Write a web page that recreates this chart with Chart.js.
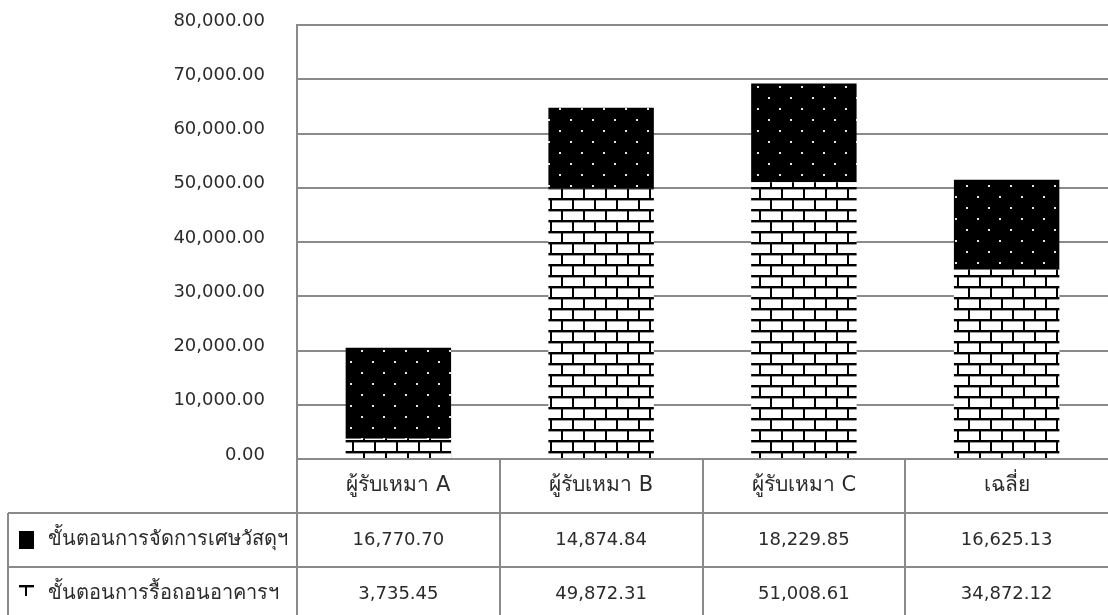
<!DOCTYPE html>
<html lang="th">
<head>
<meta charset="utf-8">
<title>ต้นทุนขั้นตอนการรื้อถอน</title>
<script src="https://cdn.jsdelivr.net/npm/chart.js@4.4.1/dist/chart.umd.min.js"></script>
<style>
    html, body { margin: 0; padding: 0; background: #fff; }
    #costChart { display: block; }
</style>
</head>
<body>
<canvas id="costChart" width="1108" height="615"></canvas>
<script>
// Categories and series values (baht)
const categories = ['ผู้รับเหมา A', 'ผู้รับเหมา B', 'ผู้รับเหมา C', 'เฉลี่ย'];
const wasteLabel = 'ขั้นตอนการจัดการเศษวัสดุฯ';
const wasteValues = [16770.70, 14874.84, 18229.85, 16625.13];
const demolitionLabel = 'ขั้นตอนการรื้อถอนอาคารฯ';
const demolitionValues = [3735.45, 49872.31, 51008.61, 34872.12];
const yTicks = [0, 10000, 20000, 30000, 40000, 50000, 60000, 70000, 80000];

const FONT = "'DejaVu Sans', 'Liberation Sans', sans-serif";
const TEXT_COLOR = '#2b2b2b';
const LINE_COLOR = '#8a8a8a';

document.addEventListener('DOMContentLoaded', () => {
    // Black fill with a staggered grid of white dots
    function makeDotPattern(ctx) {
        const tile = document.createElement('canvas');
        tile.width = 22;
        tile.height = 22;
        const t = tile.getContext('2d');
        t.fillStyle = '#000';
        t.fillRect(0, 0, 22, 22);
        t.fillStyle = '#e6e6e6';
        t.fillRect(9, 20, 2, 2);
        t.fillRect(20, 9, 2, 2);
        return ctx.createPattern(tile, 'repeat');
    }

    // White bricks with black mortar joints
    function makeBrickPattern(ctx) {
        const tile = document.createElement('canvas');
        tile.width = 22;
        tile.height = 22;
        const t = tile.getContext('2d');
        t.fillStyle = '#fff';
        t.fillRect(0, 0, 22, 22);
        t.fillStyle = '#9a9a9a';
        t.fillRect(0, 2, 22, 1);
        t.fillRect(0, 13, 22, 1);
        t.fillStyle = '#000';
        t.fillRect(0, 0, 22, 2);
        t.fillRect(0, 11, 22, 2);
        t.fillRect(0, 0, 2, 11);
        t.fillRect(11, 11, 2, 11);
        return ctx.createPattern(tile, 'repeat');
    }

    const canvas = document.getElementById('costChart');
    const ctx = canvas.getContext('2d');
    const dotPattern = makeDotPattern(ctx);
    const brickPattern = makeBrickPattern(ctx);

    const fmt = v => v.toLocaleString('en-US', { minimumFractionDigits: 2, maximumFractionDigits: 2 });

    // Data table under the plot: category header plus one row per series
    const dataTable = {
        id: 'dataTable',
        afterDraw(chart) {
            const c = chart.ctx;
            const area = chart.chartArea;
            const x = chart.scales.x;
            const top = area.bottom;
            const rowH = 54;
            const rows = [
                { label: wasteLabel, values: wasteValues, fill: dotPattern, shift: [0, 0], h: 18 },
                { label: demolitionLabel, values: demolitionValues, fill: brickPattern, shift: [16, 0], h: 11 }
            ];
            const bottom = top + rowH * (rows.length + 1);
            const step = (area.right - area.left) / categories.length;

            c.save();
            c.strokeStyle = LINE_COLOR;
            c.lineWidth = 2;
            c.beginPath();
            // horizontal rules
            c.moveTo(area.left, top);
            c.lineTo(area.right, top);
            for (let r = 1; r <= rows.length; r++) {
                c.moveTo(8, top + r * rowH);
                c.lineTo(area.right, top + r * rowH);
            }
            // vertical rules
            c.moveTo(area.left, top);
            c.lineTo(area.left, bottom);
            c.moveTo(8, top + rowH);
            c.lineTo(8, bottom);
            for (let i = 1; i < categories.length; i++) {
                const px = Math.round(area.left + i * step);
                c.moveTo(px, top);
                c.lineTo(px, bottom);
            }
            c.stroke();

            c.fillStyle = TEXT_COLOR;
            c.textBaseline = 'middle';
            c.textAlign = 'center';
            c.font = '21px ' + FONT;
            categories.forEach((cat, i) => {
                c.fillText(cat, x.getPixelForValue(i), top + rowH / 2);
            });

            rows.forEach((row, r) => {
                const cy = top + rowH * (r + 1) + rowH / 2;
                // legend swatch, pattern anchored to the swatch corner
                c.save();
                c.translate(19 - row.shift[0], cy - 9 - row.shift[1]);
                c.fillStyle = row.fill;
                c.fillRect(row.shift[0], row.shift[1], 15, row.h);
                c.restore();
                c.fillStyle = TEXT_COLOR;
                c.textAlign = 'left';
                c.font = '20px ' + FONT;
                c.fillText(row.label, 48, cy);
                c.textAlign = 'center';
                c.font = '18px ' + FONT;
                row.values.forEach((v, i) => {
                    c.fillText(fmt(v), x.getPixelForValue(i), cy);
                });
            });
            c.restore();
        }
    };

    new Chart(ctx, {
        type: 'bar',
        data: {
            labels: categories,
            datasets: [
                {
                    label: demolitionLabel,
                    data: demolitionValues,
                    backgroundColor: brickPattern,
                    borderWidth: 0
                },
                {
                    label: wasteLabel,
                    data: wasteValues,
                    backgroundColor: dotPattern,
                    borderWidth: 0
                }
            ]
        },
        options: {
            responsive: false,
            animation: false,
            layout: { padding: { top: 25, right: 0, bottom: 0, left: 0 } },
            datasets: {
                bar: { categoryPercentage: 1, barPercentage: 0.52 }
            },
            scales: {
                x: {
                    stacked: true,
                    grid: { display: false },
                    border: { display: false },
                    ticks: { display: false },
                    afterFit: scale => { scale.height = 156; }
                },
                y: {
                    stacked: true,
                    min: yTicks[0],
                    max: yTicks[yTicks.length - 1],
                    afterBuildTicks: scale => {
                        scale.ticks = yTicks.map(v => ({ value: v }));
                    },
                    afterFit: scale => { scale.width = 297; },
                    // invisible tick marks push the labels away from the axis
                    grid: {
                        color: LINE_COLOR,
                        lineWidth: 2,
                        drawTicks: true,
                        tickLength: 32,
                        tickColor: 'rgba(0,0,0,0)'
                    },
                    border: { color: LINE_COLOR, width: 2 },
                    ticks: {
                        padding: 0,
                        labelOffset: -4,
                        color: TEXT_COLOR,
                        font: { family: FONT, size: 18 },
                        callback: v => fmt(v)
                    }
                }
            },
            plugins: {
                legend: { display: false },
                tooltip: { enabled: false }
            }
        },
        plugins: [dataTable]
    });
});
</script>
</body>
</html>
